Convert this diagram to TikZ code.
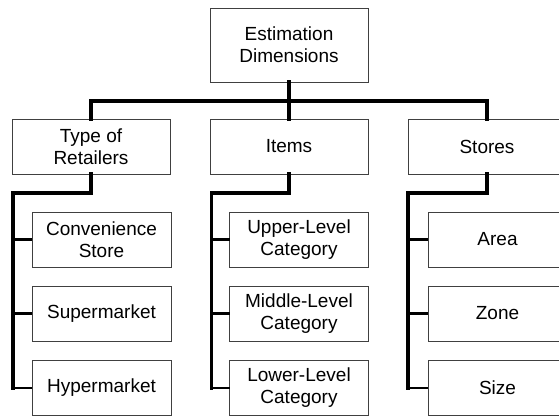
\documentclass[tikz,border=0pt]{standalone}
\usepackage{fontspec}
\setmainfont{Liberation Sans}
\usepackage{tikz}
\usetikzlibrary{positioning}

\begin{document}
\begin{tikzpicture}[
    x=1pt,y=-1pt,
    box/.style={draw=black!75, line width=0.9pt, fill=white, minimum width=158pt, minimum height=55pt, inner sep=0pt, outer sep=0pt, align=center, font=\fontsize{19}{22}\selectfont},
    rootbox/.style={box, minimum height=74pt},
    leaf/.style={box, minimum width=139pt},
    bus/.style={draw=black, line width=3.8pt, line cap=rect},
    branch/.style={draw=black, line width=2.4pt}
  ]
    \useasboundingbox (0,0) rectangle (559,417);
    \clip (0,0) rectangle (559,417);

    \node[rootbox] (root) at (289,45) {Estimation\\Dimensions};
    \node[box] (ret) at (91,146.5) {Type of\\Retailers};
    \node[box] (items) at (289,146.5) {Items};
    \node[box] (stores) at (487,146.5) {Stores};
    \draw[bus] (root.south) -- (items.north);
    \draw[bus] (root.south) -- ++(0,19) -| (ret.north);
    \draw[bus] (root.south) -- ++(0,19) -| (stores.north);

    \node[leaf] (cs) at (101.5,239.5) {Convenience\\Store};
    \node[leaf] (sm) at (101.5,313.5) {Supermarket};
    \node[leaf] (hm) at (101.5,388) {Hypermarket};
    \draw[bus] (ret.south) -- ++(0,19) -| ([xshift=-19pt]hm.west);
    \draw[branch] ([xshift=-19pt]hm.west) -- (hm.west);
    \draw[branch] ([xshift=-19pt]cs.west) -- (cs.west);
    \draw[branch] ([xshift=-19pt]sm.west) -- (sm.west);

    \node[leaf] (upl) at (299,239.5) {Upper-Level\\Category};
    \node[leaf] (mdl) at (299,313.5) {Middle-Level\\Category};
    \node[leaf] (lwl) at (299,388) {Lower-Level\\Category};
    \draw[bus] (items.south) -- ++(0,19) -| ([xshift=-18pt]lwl.west);
    \draw[branch] ([xshift=-18pt]lwl.west) -- (lwl.west);
    \draw[branch] ([xshift=-18pt]upl.west) -- (upl.west);
    \draw[branch] ([xshift=-18pt]mdl.west) -- (mdl.west);

    \node[leaf] (area) at (497.5,239.5) {Area};
    \node[leaf] (zone) at (497.5,313.5) {Zone};
    \node[leaf] (size) at (497.5,388) {Size};
    \draw[bus] (stores.south) -- ++(0,19) -| ([xshift=-20pt]size.west);
    \draw[branch] ([xshift=-20pt]size.west) -- (size.west);
    \draw[branch] ([xshift=-20pt]area.west) -- (area.west);
    \draw[branch] ([xshift=-20pt]zone.west) -- (zone.west);
  \end{tikzpicture}
\end{document}
